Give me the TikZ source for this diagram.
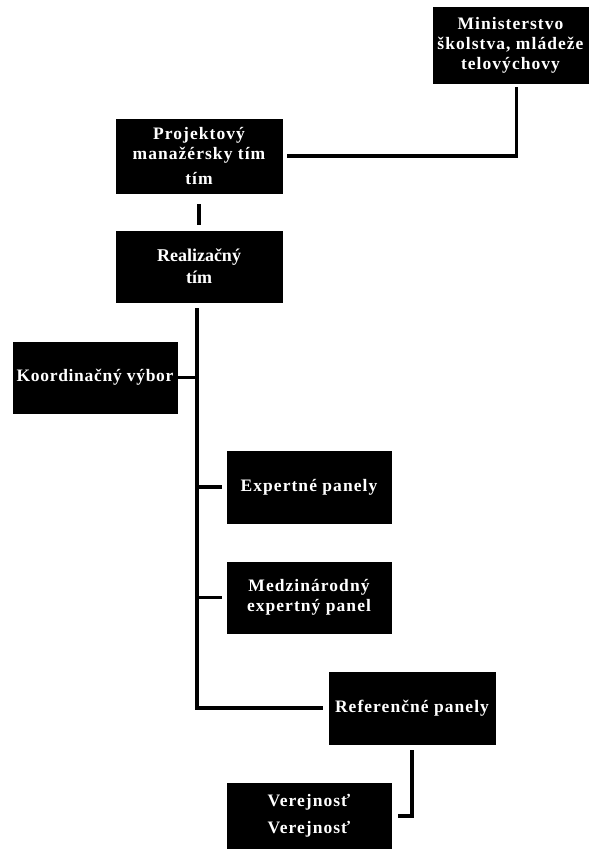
\documentclass[tikz,border=0pt]{standalone}
\usepackage{fontspec}
\setmainfont{Liberation Serif}
\newfontfamily\spaced[LetterSpace=6]{Liberation Serif}
\newfontfamily\spacedb[LetterSpace=4]{Liberation Serif}
\begin{document}
\begin{tikzpicture}[x=1pt,y=-1pt,
  box/.style={fill=black, draw=black, text=white, inner sep=0pt, align=center,
    minimum width=164pt, minimum height=71pt,
    font=\spaced\bfseries\fontsize{17.5}{20}\selectfont},
  conn/.style={line width=3.2pt, draw=black}]
\useasboundingbox (0,0) rectangle (589,849);
% boxes
\node[box, minimum width=155pt, minimum height=76pt] (min) at (510.5,45) {Ministerstvo\\školstva, mládeže\\telovýchovy};
\node[box, minimum width=166pt, minimum height=74pt] (proj) at (199,156) {Projektový\\manažérsky tím\\[5pt]tím};
\node[box, minimum width=166pt, font=\bfseries\fontsize{18}{22}\selectfont] (real) at (199,266.5) {Realizačný\\tím};
\node[box, font=\spacedb\bfseries\fontsize{17.5}{20}\selectfont] (koord) at (95,377.5) {Koordinačný výbor};
\node[box, minimum height=72pt] (exp) at (309,487) {Expertné panely};
\node[box] (medz) at (309,597.5) {Medzinárodný\\expertný panel};
\node[box, minimum width=166pt, minimum height=72pt] (ref) at (412,708) {Referenčné panely};
\node[box, minimum height=66pt, font=\spaced\bfseries\fontsize{17.5}{27}\selectfont] (ver) at (309,816) {Verejnosť\\Verejnosť};
% trunk coordinates
\coordinate (ttop) at ([yshift=-6pt]real.south);
\coordinate (tk) at (197,377.5);
\coordinate (te) at (197,487);
\coordinate (tm) at (197,597.5);
% connectors
\draw[conn] ([xshift=6pt,yshift=-4pt]min.south) |- ([xshift=5pt]proj.east);
\draw[conn] ([yshift=-11pt]proj.south) -- ([yshift=6pt]real.north);
\draw[conn] (ttop -| tk) |- ([xshift=-6pt]ref.west);
\draw[conn] (koord.east) -- (tk);
\draw[conn] (te) -- ([xshift=-5pt]exp.west);
\draw[conn] (tm) -- ([xshift=-5pt]medz.west);
\draw[conn] ([yshift=-6pt]ref.south) |- ([xshift=7pt]ver.east);
\end{tikzpicture}
\end{document}
